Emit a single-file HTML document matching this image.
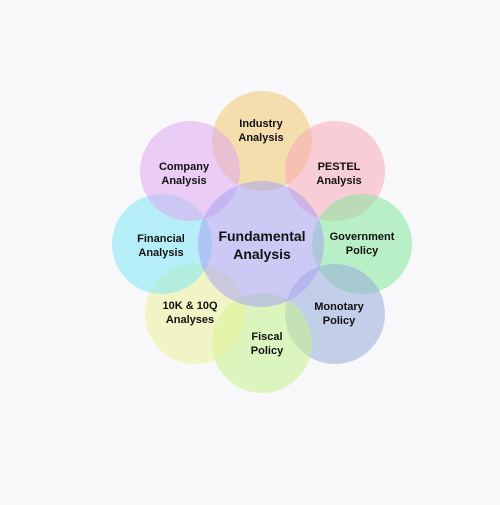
<!DOCTYPE html>
<html><head><style>body{margin:0;background:#f8f8fb}</style></head><body>
<svg width="500" height="500" xmlns="http://www.w3.org/2000/svg" font-family="Liberation Sans, sans-serif" font-weight="bold" text-anchor="middle">
<rect width="500" height="500" fill="#f8f8fb"/>
<g fill-opacity="0.55">
<circle cx="262" cy="141" r="50" fill="#f0c870"/>
<circle cx="335" cy="171" r="50" fill="#f7aab8"/>
<circle cx="362" cy="244" r="50" fill="#85e89a"/>
<circle cx="335" cy="314" r="50" fill="#98acd8"/>
<circle cx="262" cy="343" r="50" fill="#c4f38c"/>
<circle cx="195" cy="314" r="50" fill="#ebf39a"/>
<circle cx="162" cy="244" r="50" fill="#80e6f5"/>
<circle cx="190" cy="171" r="50" fill="#e0a8f0"/>
<circle cx="261" cy="244" r="63" fill="#a8a2f0"/>
</g>
<g font-size="11" fill="#111">
<text x="261" y="127">Industry</text><text x="261" y="141">Analysis</text>
<text x="339" y="170">PESTEL</text><text x="339" y="184">Analysis</text>
<text x="362" y="240">Government</text><text x="362" y="254">Policy</text>
<text x="339" y="310">Monotary</text><text x="339" y="324">Policy</text>
<text x="267" y="340">Fiscal</text><text x="267" y="354">Policy</text>
<text x="190" y="309">10K &amp; 10Q</text><text x="190" y="323">Analyses</text>
<text x="161" y="242">Financial</text><text x="161" y="256">Analysis</text>
<text x="184" y="170">Company</text><text x="184" y="184">Analysis</text>
</g>
<g font-size="14" fill="#111">
<text x="262" y="241">Fundamental</text><text x="262" y="259">Analysis</text>
</g>
</svg>
</body></html>
